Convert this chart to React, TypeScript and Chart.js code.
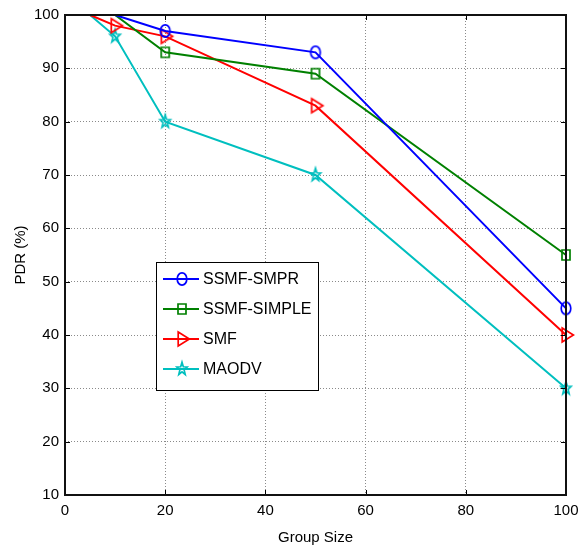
import React, { useEffect, useRef } from 'react';
import { Chart, registerables } from 'chart.js';

Chart.register(...registerables);

// ---- data ----
const groupSizes = [5, 10, 20, 50, 100];
const ssmfSmpr = [100, 100, 97, 93, 45];
const ssmfSimple = [100, 100, 93, 89, 55];
const smf = [100, 98, 96, 83, 40];
const maodv = [100, 96, 80, 70, 30];
const seriesNames = ['SSMF-SMPR', 'SSMF-SIMPLE', 'SMF', 'MAODV'];
const xTickValues = [0, 20, 40, 60, 80, 100];
const yTickValues = [10, 20, 30, 40, 50, 60, 70, 80, 90, 100];
const xTitle = 'Group Size';
const yTitle = 'PDR (%)';

const FONT = '"Liberation Sans", Arial, Helvetica, sans-serif';
const BLUE = '#0000ff';
const GREEN = '#008000';
const RED = '#ff0000';
const CYAN = '#00bfbf';

type MarkerKind = 'circle' | 'square' | 'triRight' | 'star';

function makeMarker(kind: MarkerKind, color: string): HTMLCanvasElement {
  const c = document.createElement('canvas');
  c.width = 20;
  c.height = 20;
  const g = c.getContext('2d')!;
  g.strokeStyle = color;
  g.lineWidth = 1.7;
  g.translate(10, 10);
  g.beginPath();
  if (kind === 'circle') {
    g.ellipse(0, 0, 4.8, 6.2, 0, 0, Math.PI * 2);
  } else if (kind === 'square') {
    g.rect(-4, -5, 8, 10);
  } else if (kind === 'triRight') {
    g.moveTo(-3.8, -7);
    g.lineTo(7.4, 0);
    g.lineTo(-3.8, 7);
    g.closePath();
  } else {
    const outer = 6.8;
    const inner = 2.8;
    for (let i = 0; i < 10; i++) {
      const r = i % 2 === 0 ? outer : inner;
      const a = -Math.PI / 2 + (i * Math.PI) / 5;
      const px = Math.cos(a) * r * 0.8;
      const py = Math.sin(a) * r;
      if (i === 0) g.moveTo(px, py);
      else g.lineTo(px, py);
    }
    g.closePath();
  }
  g.stroke();
  return c;
}

export default function App() {
  const ref = useRef<HTMLCanvasElement | null>(null);

  useEffect(() => {
    document.body.style.margin = '0';
    const canvas = ref.current;
    if (!canvas) return;

    const specs = [
      { name: seriesNames[0], values: ssmfSmpr, color: BLUE, marker: makeMarker('circle', BLUE) },
      { name: seriesNames[1], values: ssmfSimple, color: GREEN, marker: makeMarker('square', GREEN) },
      { name: seriesNames[2], values: smf, color: RED, marker: makeMarker('triRight', RED) },
      { name: seriesNames[3], values: maodv, color: CYAN, marker: makeMarker('star', CYAN) },
    ];

    const frame = {
      id: 'matlabFrame',
      afterDraw(chart: any) {
        const { ctx, chartArea } = chart;
        const { left, right, top, bottom } = chartArea;
        const xs = chart.scales.x;
        const ys = chart.scales.y;
        ctx.save();
        ctx.strokeStyle = '#000';
        ctx.lineWidth = 1;
        ctx.beginPath();
        for (const v of xTickValues) {
          const px = Math.round(xs.getPixelForValue(v)) + 0.5;
          ctx.moveTo(px, bottom);
          ctx.lineTo(px, bottom - 5);
          ctx.moveTo(px, top);
          ctx.lineTo(px, top + 5);
        }
        for (const v of yTickValues) {
          const py = Math.round(ys.getPixelForValue(v)) + 0.5;
          ctx.moveTo(left, py);
          ctx.lineTo(left + 5, py);
          ctx.moveTo(right, py);
          ctx.lineTo(right - 5, py);
        }
        ctx.stroke();
        ctx.lineWidth = 2;
        ctx.strokeStyle = '#111';
        ctx.strokeRect(left, top, right - left, bottom - top);

        // legend
        const bx = 156.5, by = 262.5, bw = 162, bh = 128;
        ctx.fillStyle = '#fff';
        ctx.fillRect(bx, by, bw, bh);
        ctx.lineWidth = 1;
        ctx.strokeStyle = '#000';
        ctx.strokeRect(bx, by, bw, bh);
        ctx.font = `16px ${FONT}`;
        ctx.textBaseline = 'middle';
        ctx.textAlign = 'left';
        specs.forEach((s, i) => {
          const y = 279 + i * 30;
          ctx.strokeStyle = s.color;
          ctx.lineWidth = 2;
          ctx.beginPath();
          ctx.moveTo(163, y);
          ctx.lineTo(199, y);
          ctx.stroke();
          ctx.drawImage(s.marker, 182 - 10, y - 10);
          ctx.fillStyle = '#000';
          ctx.fillText(s.name, 203, y + 1);
        });
        ctx.restore();
      },
    };

    const chart = new Chart(canvas, {
      type: 'line',
      data: {
        datasets: specs.map((s) => ({
          label: s.name,
          data: groupSizes.map((x, i) => ({ x, y: s.values[i] })),
          borderColor: s.color,
          backgroundColor: 'rgba(0,0,0,0)',
          borderWidth: 2,
          pointStyle: s.marker as any,
          pointRadius: (c: any) => (c.raw && c.raw.y >= 100 ? 0 : 5),
          pointHoverRadius: 5,
          tension: 0,
          clip: false as any,
          fill: false,
        })),
      },
      options: {
        animation: false,
        responsive: false,
        devicePixelRatio: 1,
        layout: { padding: { top: 15, right: 15, left: 0, bottom: 0 } },
        plugins: {
          legend: { display: false },
          tooltip: { enabled: false },
        },
        scales: {
          x: {
            type: 'linear',
            min: 0,
            max: 100,
            afterFit: (s: any) => { s.height = 55; s.paddingLeft = 0; s.paddingRight = 0; },
            afterBuildTicks: (s: any) => { s.ticks = xTickValues.map((v) => ({ value: v })); },
            ticks: { font: { family: FONT, size: 15 }, color: '#000', padding: 7, maxRotation: 0 },
            grid: { color: '#8a8a8a', lineWidth: 1, drawTicks: false },
            border: { display: false, dash: [1, 2] },
            title: { display: true, text: xTitle, font: { family: FONT, size: 15 }, color: '#000', padding: { top: 0, bottom: 3 } },
          },
          y: {
            type: 'linear',
            min: 10,
            max: 100,
            afterFit: (s: any) => { s.width = 65; s.paddingTop = 0; s.paddingBottom = 0; },
            afterBuildTicks: (s: any) => { s.ticks = yTickValues.map((v) => ({ value: v })); },
            ticks: { font: { family: FONT, size: 15 }, color: '#000', padding: 6 },
            grid: { color: '#8a8a8a', lineWidth: 1, drawTicks: false },
            border: { display: false, dash: [1, 2] },
            title: { display: true, text: yTitle, font: { family: FONT, size: 15 }, color: '#000', padding: { top: 12, bottom: 0 } },
          },
        },
      },
      plugins: [frame],
    });

    return () => chart.destroy();
  }, []);

  return (
    <div style={{ width: 581, height: 550, background: '#fff' }}>
      <canvas ref={ref} width={581} height={550} style={{ display: 'block', width: 581, height: 550 }} />
    </div>
  );
}
